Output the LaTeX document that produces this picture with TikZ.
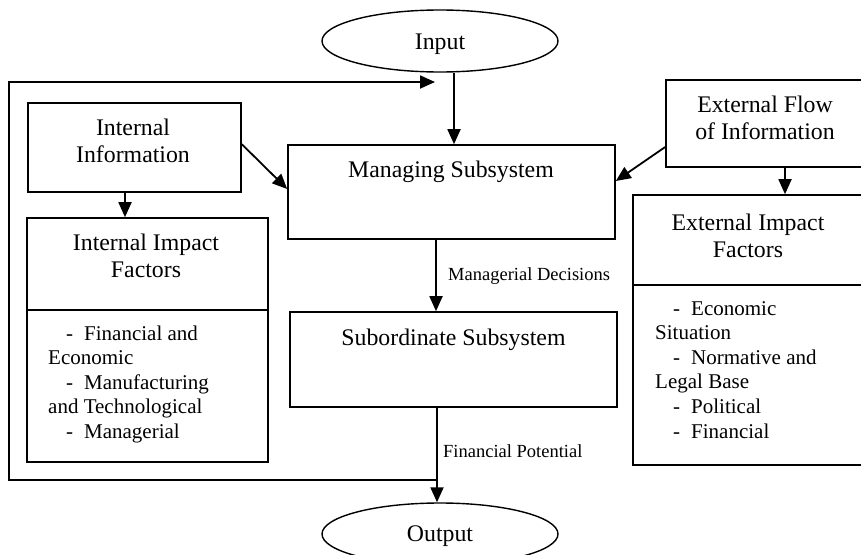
\documentclass[tikz,border=0pt]{standalone}
\usepackage{fontspec}
\setmainfont{Liberation Serif}
\usetikzlibrary{arrows.meta,shapes.geometric}

% stacked lines whose baseline is the baseline of the first line
\newcommand\ctrlines[1]{\vtop{\halign{\hfil##\hfil\cr#1\crcr}}}
\newcommand\leftlines[1]{\vtop{\halign{##\hfil\cr#1\crcr}}}
\newcommand\itm{\hspace*{18pt}-\hspace*{11pt}}
\newcommand\hdfont{\fontsize{23.8}{27}\selectfont}
\newcommand\lsfont{\fontsize{21}{24.6}\selectfont}
\newcommand\lbfont{\fontsize{18.5}{22}\selectfont}

\begin{document}
\begin{tikzpicture}[x=1pt,y=-1pt,
  box/.style={draw,line width=1.6pt,inner sep=0pt},
  oval/.style={draw,ellipse,line width=1.4pt,minimum width=236pt,minimum height=62pt,inner sep=0pt},
  arr/.style={line width=1.8pt,-{Triangle[length=15pt,width=13pt]}},
  txt/.style={inner sep=0pt,anchor=base,font=\hdfont},
  lst/.style={inner sep=0pt,anchor=base west,font=\lsfont},
  lbl/.style={inner sep=0pt,anchor=base west,font=\lbfont}]
\useasboundingbox (0,0) rectangle (861,554);
\clip (0,0) rectangle (861,554);

% terminals
\node[oval] (input) at (440,41) {};
\node[txt] (inputtxt) at (440,49) {Input};
\node[oval] (output) at (440,534) {};
\node[txt] (outputtxt) at (440,541) {Output};

% information sources
\node[box,minimum width=213pt,minimum height=89pt] (intinfo) at (134.5,147.5) {};
\node[txt] (intinfotxt) at (133,135) {\ctrlines{Internal\cr Information}};
\node[box,minimum width=198pt,minimum height=87pt] (extflow) at (765,123.5) {};
\node[txt] (extflowtxt) at (765,112) {\ctrlines{External Flow\cr of Information}};

% subsystems
\node[box,minimum width=327pt,minimum height=94pt] (managing) at (451.5,192) {};
\node[txt] (managingtxt) at (451,177) {Managing Subsystem};
\node[box,minimum width=327pt,minimum height=95pt] (subordinate) at (453.5,359.5) {};
\node[txt] (subordinatetxt) at (453.5,345) {Subordinate Subsystem};

% impact factors
\node[box,minimum width=241pt,minimum height=244pt] (intimp) at (147.5,340) {};
\coordinate (intdiv) at (0,310);
\draw[line width=1.6pt] (intimp.west |- intdiv) -- (intimp.east |- intdiv);
\node[txt] (intimptitle) at (146,250) {\ctrlines{Internal Impact\cr Factors}};
\node[lst] (intimplist) at (48,340) {\leftlines{\itm Financial and\cr Economic\cr \itm Manufacturing\cr and Technological\cr \itm Managerial}};

\node[box,minimum width=232pt,minimum height=270pt] (extimp) at (749,330) {};
\coordinate (extdiv) at (0,285);
\draw[line width=1.6pt] (extimp.west |- extdiv) -- (extimp.east |- extdiv);
\node[txt] (extimptitle) at (748,230) {\ctrlines{External Impact\cr Factors}};
\node[lst] (extimplist) at (655,315) {\leftlines{\itm Economic\cr Situation\cr \itm Normative and\cr Legal Base\cr \itm Political\cr \itm Financial}};

% connectors
\draw[arr] ([xshift=14pt]input.south) -- ([xshift=14pt]input.south |- managing.north);
\draw[arr] ([yshift=-42pt]intinfo.north east) -- ([yshift=3pt]managing.west);
\draw[arr] ([yshift=-23.5pt]extflow.west) -- ([yshift=11pt]managing.east);
\draw[arr] ([xshift=-9.5pt]intinfo.south) -- ([xshift=-9.5pt]intinfo.south |- intimp.north);
\draw[arr] ([xshift=20pt]extflow.south) -- ([xshift=20pt]extflow.south |- extimp.north);
\draw[arr] ([xshift=-15.5pt]managing.south) -- ([xshift=-15.5pt]managing.south |- subordinate.north);
\node[lbl] (decisions) at (448,280) {Managerial Decisions};
\draw[arr] ([xshift=-16.5pt]subordinate.south) -- ([xshift=-16.5pt]subordinate.south |- output.north);
\node[lbl] (potential) at (443,457) {Financial Potential};

% feedback loop
\coordinate (fbjoin) at (437,480);
\coordinate (fbcorner) at (9,82);
\coordinate (fbtip) at (435,82);
\draw[arr] (fbjoin) -| (fbcorner) -- (fbtip);
\end{tikzpicture}
\end{document}
